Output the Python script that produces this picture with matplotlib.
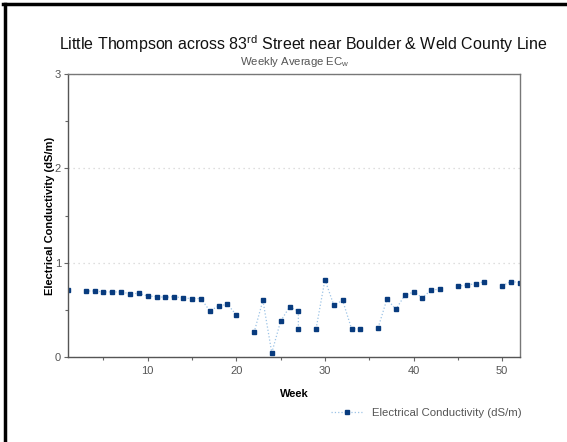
import numpy as np
import matplotlib.pyplot as plt
from matplotlib.lines import Line2D

plt.rcParams['font.family'] = ['Liberation Sans', 'DejaVu Sans']
plt.rcParams['mathtext.fontset'] = 'custom'
plt.rcParams['mathtext.rm'] = 'Liberation Sans'
plt.rcParams['mathtext.it'] = 'Liberation Sans:italic'

# semanas y conductividad (dS/m); None = semana sin dato
weeks = [1, 2, 3, 4, 5, 6, 7, 8, 9, 10, 11, 12, 13, 14, 15, 16, 17, 18, 19, 20,
         21, 22, 23, 24, 25, 26, 27, 27, 28, 29, 30, 31, 32, 33, 34, 35, 36, 37,
         38, 39, 40, 41, 42, 43, 44, 45, 46, 47, 48, 49, 50, 51, 52]
ec = [0.71, None, 0.70, 0.70, 0.69, 0.69, 0.69, 0.67, 0.675, 0.647, 0.64, 0.633,
      0.64, 0.625, 0.62, 0.62, 0.49, 0.54, 0.56, 0.445,
      None, 0.26, 0.60, 0.045, 0.38, 0.53, 0.49, 0.30, None, 0.30, 0.82, 0.55,
      0.60, 0.30, 0.297, None, 0.31, 0.615,
      0.505, 0.654, 0.69, 0.63, 0.71, 0.72, None, 0.75, 0.763, 0.777, 0.80,
      None, 0.756, 0.80, 0.79]
ec = np.array([np.nan if v is None else v for v in ec])

fig = plt.figure(figsize=(5.67, 4.42), dpi=100)
ax = fig.add_axes([0.1199, 0.1923, 0.797, 0.640])

ax.plot(weeks, ec, color='#9cc3e6', ls=':', lw=0.9,
        marker='s', ms=3.4, mfc='#083b7e', mec='#083b7e')

ax.set_xlim(1, 52)
ax.set_ylim(0, 3)
ax.set_xticks([10, 20, 30, 40, 50])
ax.set_xticks([5, 15, 25, 35, 45], minor=True)
ax.set_yticks([0, 1, 2, 3])
ax.set_yticks([0.5, 1.5, 2.5], minor=True)
ax.tick_params(which='both', direction='out', colors='#666666', labelsize=8,
               length=3, width=0.8, labelcolor='#555555')
ax.tick_params(which='minor', length=2)
ax.tick_params(axis='y', pad=2)
ax.grid(axis='y', which='major', color='#d4d4d4', ls=(0, (1, 3)), lw=0.9)

for s in ax.spines.values():
    s.set_color('#555555')
    s.set_linewidth(1.0)
ax.spines['top'].set_color('#777777')
ax.spines['right'].set_color('#777777')

ax.set_xlabel('Week', fontsize=8, fontweight='bold', labelpad=9)
ax.set_ylabel('Electrical Conductivity (dS/m)', fontsize=8, fontweight='bold',
              labelpad=0)

fig.text(0.535, 0.900,
         r'Little Thompson across 83$^{\mathrm{rd}}$ Street near Boulder & Weld County Line',
         ha='center', va='center', fontsize=11.5, color='#111111')
fig.text(0.52, 0.860, r'Weekly Average EC$_{\mathrm{w}}$',
         ha='center', va='center', fontsize=8.2, color='#555555')

handle = Line2D([], [], color='#9cc3e6', ls=':', lw=0.9,
                marker='s', ms=3.2, mfc='#083b7e', mec='#083b7e')
fig.legend([handle], ['Electrical Conductivity (dS/m)'],
           loc='center left', bbox_to_anchor=(0.565, 0.066),
           frameon=False, fontsize=8.2, handlelength=2.8, labelcolor='#555555')

# marco negro (izquierda y arriba)
fig.add_artist(Line2D([0.008, 0.008], [0, 0.991], color='black', lw=2.5,
                      transform=fig.transFigure))
fig.add_artist(Line2D([0.006, 1.0], [0.991, 0.991], color='black', lw=2.5,
                      transform=fig.transFigure))

fig.savefig('out.png', dpi=100)
